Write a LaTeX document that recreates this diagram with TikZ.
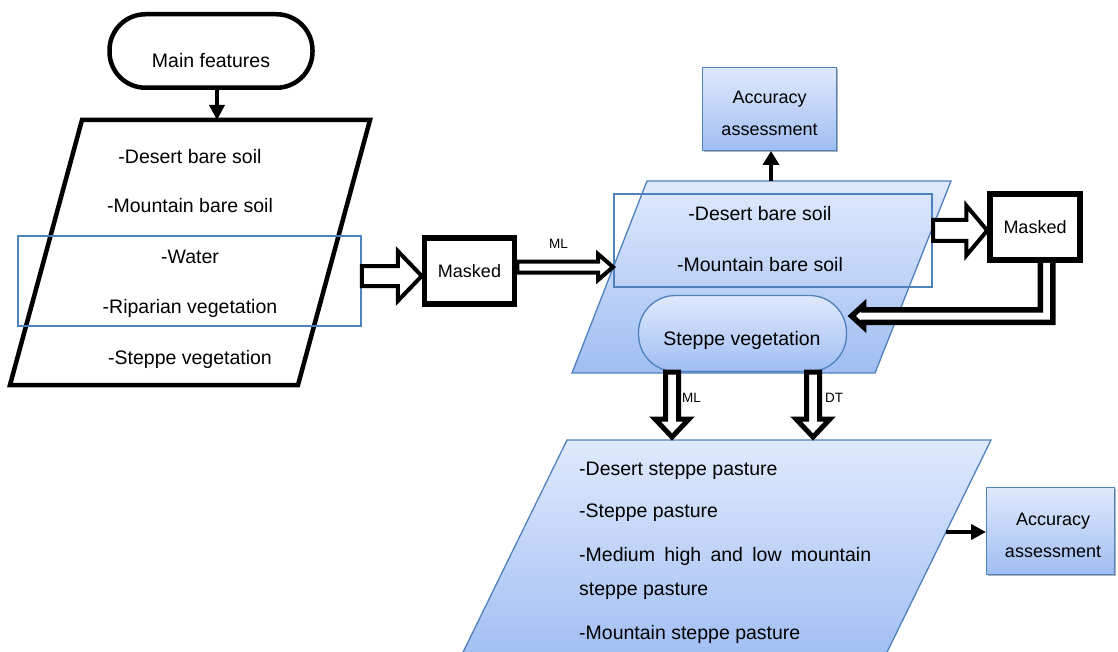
\documentclass[tikz,border=0pt]{standalone}
\usepackage{fontspec}
\setmainfont{Liberation Sans}
\usetikzlibrary{calc,arrows.meta,shadows}
\definecolor{bline}{RGB}{79,129,189}
\definecolor{btop}{RGB}{223,233,252}
\definecolor{bbot}{RGB}{160,190,243}
\tikzset{
 lbl/.style={inner sep=0pt, anchor=base, font=\fontsize{19.5}{23}\selectfont},
 lbll/.style={lbl, anchor=base west},
 acct/.style={inner sep=0pt, anchor=base, font=\fontsize{18}{22}\selectfont},
 tag/.style={inner sep=0pt, anchor=base west, font=\fontsize{13.5}{16}\selectfont},
 maskbox/.style={draw=black, line width=5.5pt, fill=white, minimum width=90pt, minimum height=66pt, inner sep=0pt, font=\fontsize{18}{22}\selectfont},
 bluegrad/.style={top color=btop, bottom color=bbot, draw=bline, line width=1.3pt},
 accbox/.style={bluegrad, inner sep=0pt, drop shadow={shadow xshift=1.5pt, shadow yshift=-1.5pt, opacity=0.3, fill=black}},
 selrect/.style={draw=bline, line width=1.6pt, inner sep=0pt},
 hollow/.style={draw=black, line width=4pt, fill=white, line join=miter, miter limit=20},
 rblock/.style n args={3}{hollow, to path={let \p1=(\tikztostart), \p2=(\tikztotarget) in (\x1,\y2+#1) -- (\x2-#3,\y2+#1) -- (\x2-#3,\y2+#2) -- (\x2,\y2) -- (\x2-#3,\y2-#2) -- (\x2-#3,\y2-#1) -- (\x1,\y2-#1) -- cycle}},
 dblock/.style n args={3}{hollow, to path={let \p1=(\tikztostart), \p2=(\tikztotarget) in (\x2-#1,\y1) -- (\x2-#1,\y2+#3) -- (\x2-#2,\y2+#3) -- (\x2,\y2) -- (\x2+#2,\y2+#3) -- (\x2+#1,\y2+#3) -- (\x2+#1,\y1) -- cycle}},
 solidarrow/.style={draw=black, line width=4pt, -{Triangle[length=14pt,width=16pt]}},
}
\begin{document}
\begin{tikzpicture}[x=1pt,y=-1pt]
\useasboundingbox (0,0) rectangle (1118,652);

% ---------- left part ----------
\coordinate (L1) at (82,120);
\coordinate (L2) at (370,120);
\coordinate (L3) at (298,385);
\coordinate (L4) at (10,385);
\coordinate (Ltop) at (217,120);
\draw[line width=4.5pt, line join=miter] (L1)--(L2)--(L3)--(L4)--cycle;
\node[selrect, minimum width=343pt, minimum height=90pt] (lrect) at (189.5,281) {};
\node[lbl] (l1) at (190,164) {-Desert bare soil};
\node[lbl] (l2) at (190,213) {-Mountain bare soil};
\node[lbl] (l3) at (190,263) {-Water};
\node[lbl] (l4) at (190,313) {-Riparian vegetation};
\node[lbl] (l5) at (190,364) {-Steppe vegetation};

\node[draw, line width=4.5pt, rounded corners=36pt, minimum width=203pt, minimum height=73.5pt, inner sep=0pt] (mf) at (211,51) {};
\node[lbl] (mft) at (211,68) {Main features};
\draw[solidarrow, line width=3.5pt, -{Triangle[length=15pt,width=15pt]}] (mf.south -| Ltop) -- (Ltop);

\node[maskbox] (m1) at (469.5,271) {Masked};
\draw[rblock={10pt}{25pt}{24pt}] (lrect.east |- 0,276) to (m1.west |- 0,276);

% ---------- upper right part ----------
\coordinate (U1) at (647,181);
\coordinate (U2) at (951,181);
\coordinate (U3) at (875,373);
\coordinate (U4) at (572,373);
\coordinate (Utop) at (771,181);
\draw[bluegrad] (U1)--(U2)--(U3)--(U4)--cycle;
\node[selrect, line width=2pt, minimum width=318pt, minimum height=93pt] (urect) at (773,240.5) {};
\node[lbl] (u1) at (760,221) {-Desert bare soil};
\node[lbl] (u2) at (760,271) {-Mountain bare soil};

\draw[rblock={5.5pt}{13pt}{15pt}] (m1.east |- 0,267) to (urect.west |- 0,267);
\node[tag] (mlt) at (549,248) {ML};

\node[bluegrad, rounded corners=37pt, minimum width=208pt, minimum height=76pt, inner sep=0pt] (sv) at (742.5,333.5) {};
\node[lbl] (svt) at (742,345) {Steppe vegetation};

\node[accbox, minimum width=133.7pt, minimum height=82.7pt] (acc1) at (769.5,109) {};
\node[acct] (a1a) at (769.5,104) {Accuracy};
\node[acct] (a1b) at (769.5,136) {assessment};
\draw[solidarrow] (Utop) -- (Utop |- acc1.south);

\node[maskbox] (m2) at (1035,227) {Masked};
\draw[rblock={10.5pt}{25pt}{21pt}] (urect.east |- 0,230.5) to (m2.west |- 0,230.5);

\draw[hollow, line width=5.5pt] let \p1=($(m2.south)+(11.5,0)$), \p2=($(sv.east)+(4.5,-17.5)$) in
  (\x1-6.25pt,\y1) -- (\x1-6.25pt,\y2+6.25pt) -- (\x2+12pt,\y2+6.25pt) -- (\x2+12pt,\y2+11pt)
  -- (\x2,\y2) -- (\x2+12pt,\y2-11pt) -- (\x2+12pt,\y2-6.25pt) -- (\x1+6.25pt,\y2-6.25pt) -- (\x1+6.25pt,\y1);

% ---------- lower part ----------
\coordinate (D1) at (567,440);
\coordinate (D2) at (991,440);
\coordinate (D3) at (882.2,662);
\coordinate (D4) at (458.2,662);
\coordinate (Dr) at (946,532);
\draw[bluegrad] (D1)--(D2)--(D3)--(D4)--cycle;

\draw[dblock={6.5pt}{17pt}{18pt}, line width=5pt] (sv.south -| 672,0) to ($(D1 -| 672,0)+(0,-3)$);
\draw[dblock={6.5pt}{17pt}{18pt}, line width=5pt] (sv.south -| 813,0) to ($(D1 -| 813,0)+(0,-3)$);
\node[tag] (mlb) at (682,402.5) {ML};
\node[tag] (dtb) at (825,402) {DT};

\node[lbll] (d1) at (579,475) {-Desert steppe pasture};
\node[lbll] (d2) at (579,517.7) {-Steppe pasture};
\node[lbll] (d3) at (579,561.5) {\makebox[292pt][s]{-Medium high and low mountain}};
\node[lbll] (d4) at (579,595) {steppe pasture};
\node[lbll] (d5) at (579,639.3) {-Mountain steppe pasture};

\node[accbox, minimum width=127.7pt, minimum height=86.7pt] (acc2) at (1050.5,531) {};
\node[acct] (a2a) at (1053,525) {Accuracy};
\node[acct] (a2b) at (1053,557) {assessment};
\draw[solidarrow, line width=4.5pt, -{Triangle[length=15pt,width=15pt]}] (Dr) -- (Dr -| acc2.west);
\end{tikzpicture}
\end{document}
